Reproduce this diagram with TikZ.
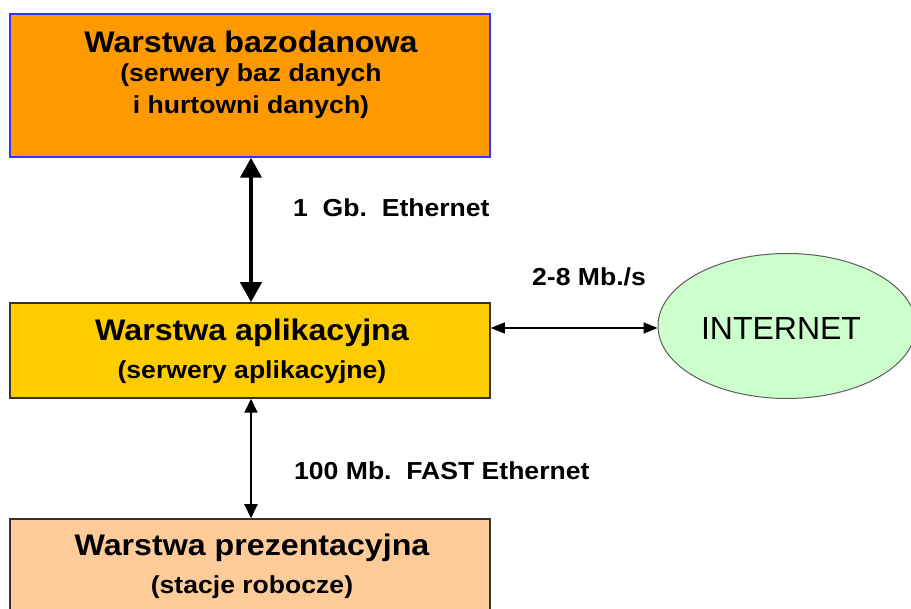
\documentclass[tikz,border=0pt]{standalone}
\usepackage{fontspec}
\setmainfont{Liberation Sans}
\newfontfamily\boldwide{Liberation Sans}[FakeStretch=1.08]
\usetikzlibrary{arrows.meta,shapes.geometric}
\definecolor{dbfill}{HTML}{FF9900}
\definecolor{appfill}{HTML}{FFCC00}
\definecolor{presfill}{HTML}{FFCC99}
\definecolor{netfill}{HTML}{CCFFCC}
\definecolor{dbborder}{HTML}{3333FF}
\definecolor{edge}{HTML}{333333}
\tikzset{
  layer/.style={draw, line width=1.5pt, minimum width=480pt, inner sep=0pt},
  title/.style={anchor=base, inner sep=0pt, font=\boldwide\bfseries\fontsize{29.8}{32}\selectfont},
  subtitle/.style={anchor=base, inner sep=0pt, font=\boldwide\bfseries\fontsize{24.6}{28}\selectfont},
  linklabel/.style={anchor=base west, inner sep=0pt, font=\boldwide\bfseries\fontsize{24.6}{28}\selectfont},
  biglink/.style={line width=4pt, {Triangle[length=20pt,width=21pt]}-{Triangle[length=20pt,width=21pt]}},
  midlink/.style={line width=2pt, {Triangle[length=14pt,width=13pt]}-{Triangle[length=14pt,width=13pt]}},
  thinlink/.style={line width=1.5pt, {Triangle[length=14pt,width=11pt]}-{Triangle[length=14pt,width=11pt]}},
}
\begin{document}
\begin{tikzpicture}[x=1pt,y=-1pt]
\useasboundingbox (0,0) rectangle (911,609);
% layer boxes
\node[layer, draw=dbborder, fill=dbfill, minimum height=143pt] (db) at (250,85.5) {};
\node[layer, draw=edge, fill=appfill, minimum height=95pt] (app) at (250,350.5) {};
\node[layer, draw=edge, fill=presfill, minimum height=110pt] (pres) at (250,574) {};
% internet cloud
\node[ellipse, draw=edge!80, line width=1pt, fill=netfill, minimum width=258pt, minimum height=145pt, inner sep=0pt] (net) at (787,326) {};
% texts
\node[title] (dbt) at (251,53) {Warstwa bazodanowa};
\node[subtitle] (dbs1) at (251,82) {(serwery baz danych};
\node[subtitle] (dbs2) at (251,114) {i hurtowni danych)};
\node[title] (appt) at (252,341) {Warstwa aplikacyjna};
\node[subtitle] (apps) at (252,379) {(serwery aplikacyjne)};
\node[title] (prest) at (252,555) {Warstwa prezentacyjna};
\node[subtitle] (press) at (252,594) {(stacje robocze)};
\node[anchor=base, inner sep=0pt, font=\fontsize{32}{36}\selectfont] (nett) at (781,340) {INTERNET};
% links
\draw[biglink] (db.south -| 251,0) -- (app.north -| 251,0);
\draw[midlink] (app.south -| 251,0) -- (pres.north -| 251,0);
\draw[thinlink] (app.east |- 0,328) -- (net.west |- 0,328);
\node[linklabel] (l1) at (293,217) {1\ \ Gb.\ \ Ethernet};
\node[linklabel] (l2) at (294,480) {100 Mb.\ \ FAST Ethernet};
\node[linklabel] (l3) at (532,286) {2-8 Mb./s};
\end{tikzpicture}
\end{document}
